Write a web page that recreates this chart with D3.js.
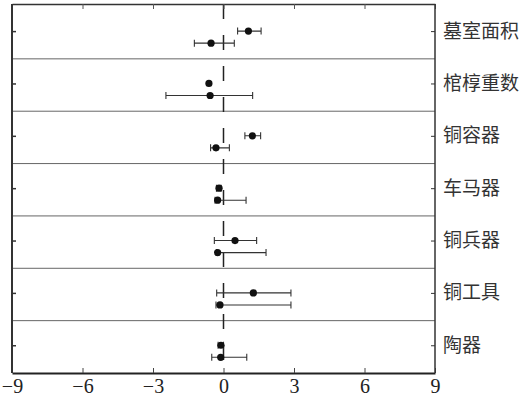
<!DOCTYPE html>
<html>
<head>
<meta charset="utf-8">
<script src="https://cdn.jsdelivr.net/npm/d3@7"></script>
<style>
  body { margin: 0; background: #fff; }
  svg { display: block; }
</style>
</head>
<body>
<div id="chart"></div>
<script>
"use strict";

// categories top to bottom
const categories = ["墓室面积", "棺椁重数", "铜容器", "车马器", "铜兵器", "铜工具", "陶器"];
// upper point per category: estimate, low, high
const upperMean = [1.06, -0.62, 1.23, -0.19, 0.49, 1.27, -0.11];
const upperLow  = [0.60, -0.62, 0.91, -0.30, -0.39, -0.29, -0.23];
const upperHigh = [1.60, -0.62, 1.58, -0.10, 1.41, 2.87, 0.00];
// lower point per category
const lowerMean = [-0.53, -0.57, -0.32, -0.25, -0.25, -0.15, -0.12];
const lowerLow  = [-1.24, -2.45, -0.55, -0.36, -0.30, -0.32, -0.50];
const lowerHigh = [0.46, 1.24, 0.25, 0.96, 1.81, 2.87, 0.99];
const xTicks = [-9, -6, -3, 0, 3, 6, 9];

const width = 527, height = 401;
const plotLeft = 12, plotRight = 435, plotTop = 4, plotBottom = 373;

const svg = d3.select("#chart").append("svg")
    .attr("width", width)
    .attr("height", height);

const x = d3.scaleLinear([-9, 9], [plotLeft, plotRight]);
const band = d3.scaleBand(categories, [6.5, plotBottom]);
const bw = band.bandwidth();
const yUp = c => band(c) + bw * 0.47;
const yLo = c => band(c) + bw * 0.70;
const yLabel = d3.scalePoint(categories, [yUp(categories[0]), yUp(categories[categories.length - 1])]);

// band separators
svg.append("g")
    .selectAll("line")
    .data(categories.slice(1))
    .enter()
    .append("line")
    .attr("x1", plotLeft).attr("x2", plotRight)
    .attr("y1", d => band(d)).attr("y2", d => band(d))
    .attr("stroke", "#666")
    .attr("stroke-width", 1);

// dashed zero line
svg.append("line")
    .attr("x1", x(0)).attr("x2", x(0))
    .attr("y1", plotTop).attr("y2", plotBottom)
    .attr("stroke", "#222")
    .attr("stroke-width", 1.5)
    .attr("stroke-dasharray", "15,16");

// bottom axis with inward ticks
svg.append("g")
    .attr("transform", `translate(0,${plotBottom})`)
    .call(d3.axisBottom(x).tickValues(xTicks).tickSizeInner(-5).tickSizeOuter(0)
        .tickFormat(d => d < 0 ? "\u2212" + Math.abs(d) : d))
    .call(g => g.select(".domain").attr("stroke", "#222").attr("stroke-width", 2))
    .call(g => g.selectAll(".tick line").attr("stroke", "#444"))
    .call(g => g.selectAll(".tick text")
        .attr("y", 6)
        .attr("fill", "#222")
        .attr("font-family", "'Liberation Serif', serif")
        .attr("font-size", 20));

// top ticks inward
svg.append("g")
    .attr("transform", `translate(0,${plotTop})`)
    .call(d3.axisTop(x).tickValues(xTicks).tickSizeInner(-5).tickSizeOuter(0).tickFormat(""))
    .call(g => g.select(".domain").attr("stroke", "#333").attr("stroke-width", 1.5))
    .call(g => g.selectAll(".tick line").attr("stroke", "#555"));

// left axis ticks inward
svg.append("g")
    .attr("transform", `translate(${plotLeft},0)`)
    .call(d3.axisLeft(yLabel).tickSizeInner(-4).tickSizeOuter(0).tickFormat(""))
    .call(g => g.select(".domain").attr("d", `M0,${plotTop}V${plotBottom}`).attr("stroke", "#333").attr("stroke-width", 2))
    .call(g => g.selectAll(".tick line").attr("stroke", "#333").attr("stroke-width", 1.5));

// right axis with labels
svg.append("g")
    .attr("transform", `translate(${plotRight},0)`)
    .call(d3.axisRight(yLabel).tickSizeInner(-4).tickSizeOuter(0).tickPadding(8))
    .call(g => g.select(".domain").attr("d", `M0,${plotTop}V${plotBottom}`).attr("stroke", "#333").attr("stroke-width", 1.5))
    .call(g => g.selectAll(".tick line").attr("stroke", "#333"))
    .call(g => g.selectAll(".tick text")
        .attr("fill", "#333")
        .attr("font-family", "'Noto Sans CJK SC', sans-serif")
        .attr("font-size", 19));

// points with error bars
const points = [];
categories.forEach((c, i) => {
    points.push({ y: yUp(c), m: upperMean[i], lo: upperLow[i], hi: upperHigh[i] });
    points.push({ y: yLo(c), m: lowerMean[i], lo: lowerLow[i], hi: lowerHigh[i] });
});

const pg = svg.append("g")
    .selectAll("g")
    .data(points)
    .enter()
    .append("g");

pg.filter(d => d.hi - d.lo > 0.05)
    .append("path")
    .attr("fill", "none")
    .attr("stroke", "#333")
    .attr("stroke-width", 1.1)
    .attr("d", d => `M${x(d.lo)},${d.y}H${x(d.hi)}M${x(d.lo)},${d.y - 3.5}V${d.y + 3.5}M${x(d.hi)},${d.y - 3.5}V${d.y + 3.5}`);

pg.append("circle")
    .attr("cx", d => x(d.m))
    .attr("cy", d => d.y)
    .attr("r", 3.6)
    .attr("fill", "#111");
</script>
</body>
</html>
